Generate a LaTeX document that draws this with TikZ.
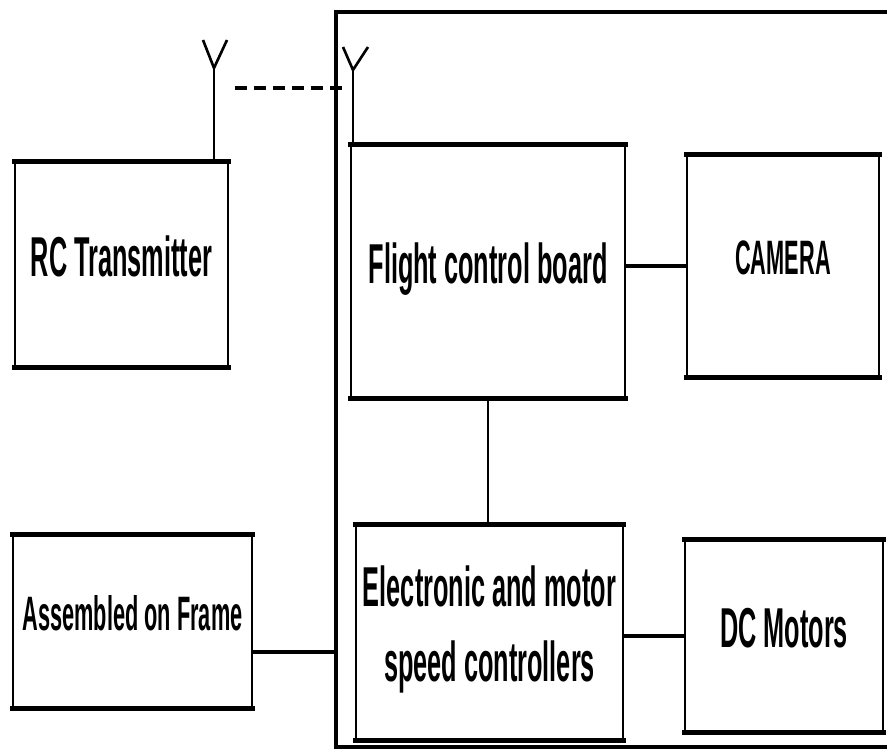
\documentclass[tikz,border=0pt]{standalone}
\usepackage{fontspec}
\newfontfamily\blockfont[FakeStretch=0.45]{Liberation Sans Bold}

\begin{document}
\begin{tikzpicture}[x=0.02cm,y=-0.02cm,
    blockbox/.style={draw,line width=1.1pt,align=center,inner sep=0pt,text depth=0.34cm,
      font=\blockfont\fontsize{32}{42.7}\selectfont},
    smalltext/.style={font=\blockfont\fontsize{27.5}{33}\selectfont},
    wire/.style={line width=2.2pt},
    thinwire/.style={line width=1.5pt}]
  \useasboundingbox (0,0) rectangle (887,753);

  \draw[line width=1.8pt] (900,12) -- (336,12) -- (336,747) -- (900,747);

  \node[blockbox,minimum width=4.26cm,minimum height=4.10cm] (rct) at (121.5,264.5) {RC Transmitter};
  \node[blockbox,minimum width=5.48cm,minimum height=5.06cm] (fcb) at (488,271.5) {Flight control board};
  \node[blockbox,smalltext,minimum width=3.84cm,minimum height=4.44cm] (cam) at (783,266) {CAMERA};
  \node[blockbox,smalltext,minimum width=4.78cm,minimum height=3.46cm] (asm) at (132.5,621.5) {Assembled on Frame};
  \node[blockbox,minimum width=5.34cm,minimum height=4.30cm] (esc) at (489.5,632.5) {Electronic and motor\\speed controllers};
  \node[blockbox,minimum width=3.96cm,minimum height=3.84cm] (dcm) at (784,636) {DC Motors};

  \foreach \b in {rct,fcb,cam,asm,esc,dcm}
    \draw[line width=2.8pt,line cap=rect] (\b.north west) -- (\b.north east)
      (\b.south west) -- (\b.south east);

  \coordinate (antL) at (214,68);
  \coordinate (antR) at (353,70);
  \draw[thinwire] (antL) -- (antL |- rct.north);
  \draw[thinwire] (203,40) -- (antL) -- (227,40);
  \draw[thinwire] (antR) -- (antR |- fcb.north);
  \draw[thinwire] (343,47) -- (antR) -- (368,47);

  \coordinate (linkL) at (235,88);
  \coordinate (linkR) at (343,88);
  \draw[line width=2.6pt,dash pattern=on 0.24cm off 0.14cm] (linkL) -- (linkR);

  \coordinate (frameL) at (336,652);
  \draw[wire] (cam.west -| fcb.east) -- (cam.west);
  \draw[thinwire] (fcb.south) -- (fcb.south |- esc.north);
  \draw[wire] (dcm.west -| esc.east) -- (dcm.west);
  \draw[wire] (frameL -| asm.east) -- (frameL);
\end{tikzpicture}
\end{document}
